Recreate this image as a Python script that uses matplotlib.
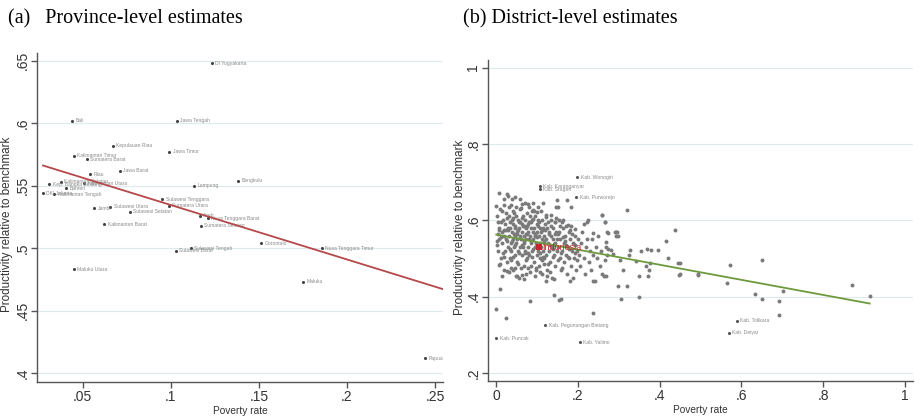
import matplotlib.pyplot as plt
from matplotlib.ticker import FixedLocator

plt.rcParams['font.family'] = ['Liberation Sans', 'DejaVu Sans']

# (a) province-level estimates
prov_names = ['DI Yogyakarta', 'Bali', 'Jawa Tengah', 'Kepulauan Riau', 'Jawa Timur',
              'Kalimantan Timur', 'Sumatera Barat', 'Riau', 'Jawa Barat', 'Bengkulu',
              'Lampung', 'Kep. Bangka Belitung', 'Kalimantan Selatan', 'Kalimantan Utara',
              'Banten', 'DKI Jakarta', 'Kalimantan Tengah', 'Sulawesi Tenggara',
              'Sumatera Utara', 'Jambi', 'Sulawesi Utara', 'Sulawesi Selatan', 'Aceh',
              'Nusa Tenggara Barat', 'Sumatera Selatan', 'Kalimantan Barat',
              'Sulawesi Tengah', 'Sulawesi Barat', 'Gorontalo', 'Nusa Tenggara Timur',
              'Maluku', 'Papua', 'Maluku Utara']
prov_pov = [0.1233, 0.0441, 0.1032, 0.0669, 0.0990, 0.0449, 0.0521, 0.0540, 0.0710, 0.1382,
            0.1132, 0.0309, 0.0375, 0.0509, 0.0407, 0.0274, 0.0337, 0.0951, 0.0989, 0.0564,
            0.0655, 0.0767, 0.1165, 0.1209, 0.1170, 0.0621, 0.1112, 0.1027, 0.1511, 0.1858,
            0.1752, 0.2445, 0.0449]
prov_prod = [0.648, 0.602, 0.602, 0.582, 0.577, 0.574, 0.571, 0.559, 0.562, 0.554,
             0.550, 0.551, 0.553, 0.552, 0.548, 0.544, 0.543, 0.539, 0.534, 0.532,
             0.533, 0.529, 0.526, 0.524, 0.518, 0.519, 0.500, 0.498, 0.504, 0.500,
             0.473, 0.412, 0.483]
prov_fit_x = [0.0274, 0.2547]
prov_fit_y = [0.566, 0.467]

# (b) district-level estimates
dist_pov = [
    0.002, 0.004, 0.006, 0.008, 0.010, 0.011, 0.013, 0.015, 0.016, 0.018, 0.019, 0.021, 0.022,
    0.024, 0.025, 0.027, 0.028, 0.029, 0.005, 0.012, 0.017, 0.023, 0.026, 0.003, 0.009,
    0.031, 0.032, 0.033, 0.034, 0.035, 0.036, 0.037, 0.038, 0.039, 0.040, 0.041, 0.042, 0.043,
    0.044, 0.045, 0.046, 0.047, 0.048, 0.049, 0.050, 0.051, 0.052, 0.053, 0.054, 0.055, 0.056,
    0.057, 0.058, 0.059, 0.034, 0.038, 0.042, 0.046, 0.050, 0.054, 0.058, 0.033, 0.047, 0.053,
    0.040,
    0.061, 0.062, 0.063, 0.064, 0.065, 0.066, 0.067, 0.068, 0.069, 0.070, 0.071, 0.072, 0.073,
    0.074, 0.075, 0.076, 0.077, 0.078, 0.079, 0.080, 0.081, 0.082, 0.083, 0.084, 0.085, 0.086,
    0.087, 0.088, 0.089, 0.064, 0.068, 0.072, 0.076, 0.080, 0.084, 0.088, 0.070, 0.078,
    0.091, 0.092, 0.093, 0.094, 0.095, 0.096, 0.097, 0.098, 0.099, 0.100, 0.101, 0.102, 0.103,
    0.104, 0.105, 0.106, 0.107, 0.108, 0.109, 0.110, 0.111, 0.112, 0.113, 0.114, 0.115, 0.116,
    0.117, 0.118, 0.119, 0.094, 0.100, 0.106, 0.112, 0.118,
    0.121, 0.122, 0.124, 0.125, 0.127, 0.128, 0.130, 0.131, 0.133, 0.134, 0.136, 0.137, 0.139,
    0.140, 0.142, 0.143, 0.145, 0.146, 0.148, 0.149, 0.126, 0.132, 0.138, 0.144,
    0.151, 0.153, 0.155, 0.157, 0.159, 0.161, 0.163, 0.165, 0.167, 0.169, 0.171, 0.173, 0.175,
    0.177, 0.179, 0.181, 0.183, 0.185, 0.187, 0.189, 0.191, 0.193, 0.195, 0.197, 0.199, 0.160,
    0.170, 0.180,
    0.202, 0.205, 0.208, 0.211, 0.214, 0.217, 0.220, 0.223, 0.226, 0.229, 0.232, 0.235, 0.238,
    0.241, 0.244, 0.247, 0.250, 0.253, 0.256, 0.259,
    0.001, 0.007, 0.014, 0.020, 0.030, 0.036, 0.043, 0.049, 0.056, 0.062, 0.069, 0.075, 0.081,
    0.087, 0.093, 0.099, 0.105, 0.111, 0.117, 0.123, 0.129, 0.135, 0.141, 0.147, 0.152, 0.158,
    0.164, 0.170, 0.176, 0.184, 0.192, 0.198,
    0.004, 0.011, 0.019, 0.027, 0.035, 0.041, 0.048, 0.055, 0.060, 0.066, 0.073, 0.079, 0.085,
    0.090, 0.097, 0.103, 0.109, 0.115, 0.120, 0.127, 0.133, 0.139, 0.145, 0.150, 0.156, 0.162,
    0.168, 0.178, 0.186, 0.194,
    0.015, 0.031, 0.045, 0.052, 0.067, 0.083, 0.096, 0.108, 0.125, 0.132, 0.141, 0.057, 0.071,
    0.019, 0.039, 0.089, 0.103, 0.115,
    # scattered points away from the core
    0.007, 0.026, 0.028, 0.046, 0.000, 0.018, 0.032, 0.063, 0.079, 0.090, 0.061, 0.148, 0.146,
    0.150, 0.174, 0.183, 0.319, 0.259, 0.267, 0.221, 0.225, 0.216, 0.122, 0.101, 0.091, 0.144,
    0.153, 0.164, 0.176, 0.194, 0.237, 0.272, 0.291, 0.293, 0.437, 0.416, 0.420, 0.445, 0.447,
    0.494, 0.396, 0.378, 0.370, 0.354, 0.376, 0.374, 0.372, 0.366, 0.349, 0.350, 0.320, 0.305,
    0.298, 0.311, 0.302, 0.327, 0.324, 0.341, 0.296, 0.292, 0.297, 0.266, 0.258, 0.273, 0.268,
    0.268, 0.273, 0.282, 0.286, 0.272, 0.266, 0.264, 0.010, 0.000, 0.024, 0.083, 0.142, 0.158,
    0.154, 0.238, 0.180, 0.122, 0.063, 0.008, 0.026, 0.238, 0.268,
    0.572, 0.650, 0.495, 0.564, 0.633, 0.650, 0.691, 0.702, 0.693, 0.871, 0.914, 0.449, 0.449]
dist_prod = [
    0.61, 0.52, 0.58, 0.55, 0.63, 0.50, 0.57, 0.54, 0.60, 0.47, 0.56, 0.59, 0.52,
    0.62, 0.55, 0.49, 0.58, 0.53, 0.565, 0.595, 0.515, 0.575, 0.605, 0.545, 0.485,
    0.56, 0.61, 0.50, 0.58, 0.54, 0.64, 0.52, 0.57, 0.60, 0.47, 0.55, 0.59, 0.53,
    0.62, 0.56, 0.51, 0.58, 0.54, 0.61, 0.49, 0.57, 0.55, 0.60, 0.52, 0.58, 0.45,
    0.56, 0.63, 0.53, 0.525, 0.545, 0.505, 0.585, 0.565, 0.575, 0.595, 0.595, 0.535, 0.485,
    0.625,
    0.55, 0.59, 0.51, 0.57, 0.53, 0.61, 0.48, 0.56, 0.54, 0.60, 0.52, 0.58, 0.46,
    0.55, 0.62, 0.50, 0.57, 0.53, 0.59, 0.55, 0.51, 0.61, 0.56, 0.48, 0.58, 0.54,
    0.60, 0.52, 0.57, 0.535, 0.585, 0.495, 0.565, 0.595, 0.545, 0.625, 0.515, 0.475,
    0.55, 0.49, 0.58, 0.53, 0.61, 0.56, 0.47, 0.54, 0.59, 0.51, 0.57, 0.60, 0.52,
    0.56, 0.48, 0.58, 0.54, 0.50, 0.57, 0.53, 0.60, 0.55, 0.46, 0.52, 0.58, 0.54,
    0.50, 0.56, 0.59, 0.565, 0.535, 0.515, 0.575, 0.485,
    0.55, 0.51, 0.58, 0.47, 0.54, 0.57, 0.52, 0.49, 0.56, 0.60, 0.53, 0.45, 0.55,
    0.58, 0.51, 0.54, 0.48, 0.57, 0.52, 0.55, 0.595, 0.535, 0.505, 0.565,
    0.53, 0.57, 0.50, 0.55, 0.47, 0.52, 0.58, 0.54, 0.49, 0.56, 0.51, 0.46, 0.53,
    0.57, 0.50, 0.55, 0.48, 0.52, 0.45, 0.54, 0.50, 0.56, 0.47, 0.52, 0.55, 0.595,
    0.585, 0.575,
    0.51, 0.48, 0.54, 0.57, 0.50, 0.46, 0.53, 0.55, 0.49, 0.52, 0.47, 0.55, 0.51,
    0.44, 0.53, 0.50, 0.56, 0.48, 0.52, 0.46,
    0.535, 0.575, 0.625, 0.505, 0.575, 0.495, 0.565, 0.635, 0.515, 0.605, 0.545, 0.585, 0.635,
    0.505, 0.625, 0.555, 0.595, 0.495, 0.545, 0.615, 0.565, 0.585, 0.535, 0.605, 0.565, 0.515,
    0.555, 0.535, 0.505, 0.585, 0.535, 0.495,
    0.595, 0.555, 0.575, 0.545, 0.475, 0.605, 0.455, 0.595, 0.475, 0.585, 0.565, 0.515, 0.595,
    0.525, 0.475, 0.585, 0.625, 0.505, 0.575, 0.485, 0.615, 0.525, 0.595, 0.495, 0.585, 0.475,
    0.545, 0.525, 0.565, 0.515,
    0.455, 0.465, 0.475, 0.455, 0.445, 0.465, 0.455, 0.465, 0.455, 0.465, 0.445, 0.655, 0.645,
    0.655, 0.655, 0.645, 0.635, 0.645,
    0.671, 0.670, 0.664, 0.662, 0.637, 0.641, 0.635, 0.644, 0.642, 0.628, 0.632, 0.654, 0.635,
    0.635, 0.654, 0.635, 0.628, 0.614, 0.596, 0.596, 0.600, 0.590, 0.609, 0.622, 0.604, 0.596,
    0.600, 0.600, 0.589, 0.576, 0.567, 0.569, 0.569, 0.558, 0.574, 0.545, 0.502, 0.487, 0.457,
    0.458, 0.521, 0.521, 0.526, 0.519, 0.489, 0.469, 0.453, 0.480, 0.453, 0.400, 0.429, 0.394,
    0.427, 0.469, 0.495, 0.521, 0.508, 0.493, 0.569, 0.569, 0.558, 0.595, 0.614, 0.568, 0.542,
    0.530, 0.526, 0.522, 0.511, 0.509, 0.495, 0.454, 0.421, 0.368, 0.345, 0.389, 0.403, 0.394,
    0.391, 0.356, 0.440, 0.440, 0.456, 0.482, 0.467, 0.441, 0.455,
    0.483, 0.496, 0.459, 0.437, 0.407, 0.393, 0.389, 0.414, 0.352, 0.431, 0.401, 0.488, 0.459]

dist_names = ['Kab. Wonogiri', 'Kab. Karanganyar', 'Kab. Sragen', 'Kab. Purworejo',
              'Kab. Pegunungan Bintang', 'Kab. Puncak', 'Kab. Yalimo', 'Kab. Tolikara',
              'Kab. Deiyai']
dist_named_pov = [0.198, 0.106, 0.107, 0.196, 0.1195, 0.000, 0.205, 0.5886, 0.569]
dist_named_prod = [0.713, 0.689, 0.682, 0.661, 0.325, 0.2915, 0.280, 0.337, 0.305]
indonesia_pov = 0.105
indonesia_prod = 0.530
dist_fit_x = [0.0, 0.914]
dist_fit_y = [0.5626, 0.382]

prov_xticks = [0.05, 0.1, 0.15, 0.2, 0.25]
prov_xlabels = ['.05', '.1', '.15', '.2', '.25']
prov_yticks = [0.4, 0.45, 0.5, 0.55, 0.6, 0.65]
prov_ylabels = ['.4', '.45', '.5', '.55', '.6', '.65']
dist_xticks = [0, 0.2, 0.4, 0.6, 0.8, 1]
dist_xlabels = ['0', '.2', '.4', '.6', '.8', '1']
dist_yticks = [0.2, 0.4, 0.6, 0.8, 1]
dist_ylabels = ['.2', '.4', '.6', '.8', '1']

grid_col = '#dde9ec'
axis_col = '#555555'

fig = plt.figure(figsize=(9.21, 4.19), dpi=100)
ax1 = fig.add_axes([0.0402, 0.0883, 0.4408, 0.7852])
ax2 = fig.add_axes([0.5299, 0.0907, 0.4614, 0.7661])


def style(ax, xt, xl, yt, yl, ylab_x):
    ax.xaxis.set_major_locator(FixedLocator(xt))
    ax.set_xticklabels(xl)
    ax.yaxis.set_major_locator(FixedLocator(yt))
    ax.set_yticklabels(yl, rotation=90, va='center')
    for s in ['top', 'right']:
        ax.spines[s].set_visible(False)
    for s in ['left', 'bottom']:
        ax.spines[s].set_color(axis_col)
        ax.spines[s].set_linewidth(1.0)
    ax.tick_params(direction='out', length=4, width=1, color=axis_col,
                   labelsize=10, labelcolor='#333333', pad=2)
    ax.tick_params(axis='y', pad=1.5)
    ax.grid(axis='y', color=grid_col, linewidth=0.8)
    ax.set_axisbelow(True)
    ax.set_xlabel('Poverty rate', fontsize=7.3, color='#333333', labelpad=1)
    ax.set_ylabel('Productivity relative to benchmark', fontsize=8.4, color='#333333')
    ax.yaxis.set_label_coords(ylab_x, 0.48)


# panel (a)
ax1.scatter(prov_pov, prov_prod, s=5, color='#444444', zorder=3, linewidths=0)
for name, x, y in zip(prov_names, prov_pov, prov_prod):
    ax1.annotate(name, (x, y), xytext=(2.5, 0), textcoords='offset points',
                 fontsize=3.6, color='#8a8a8a', va='center', ha='left')
ax1.plot(prov_fit_x, prov_fit_y, color='#b5484a', linewidth=1.3, zorder=4)
ax1.set_xlim(0.024, 0.2545)
ax1.set_ylim(0.3928, 0.656)
style(ax1, prov_xticks, prov_xlabels, prov_yticks, prov_ylabels, -0.06)

# panel (b)
ax2.scatter(dist_pov, dist_prod, s=8, color='#7a7a7a', zorder=3, linewidths=0)
ax2.scatter(dist_named_pov, dist_named_prod, s=5, color='#555555', zorder=3, linewidths=0)
for name, x, y in zip(dist_names, dist_named_pov, dist_named_prod):
    ax2.annotate(name, (x, y), xytext=(2.5, 0), textcoords='offset points',
                 fontsize=3.6, color='#8a8a8a', va='center', ha='left')
ax2.plot(dist_fit_x, dist_fit_y, color='#6e9a3e', linewidth=1.3, zorder=4)
ax2.scatter([indonesia_pov], [indonesia_prod], s=16, marker='s', color='#c0282d', zorder=5,
            linewidths=0)
ax2.annotate('Indonesia', (indonesia_pov, indonesia_prod), xytext=(2.5, 0),
             textcoords='offset points', fontsize=6.5, color='#c0282d', va='center', zorder=5)
ax2.set_xlim(-0.02, 1.02)
ax2.set_ylim(0.179, 1.02)
style(ax2, dist_xticks, dist_xlabels, dist_yticks, dist_ylabels, -0.052)

fig.text(0.009, 0.955, '(a)   Province-level estimates', fontsize=14.5,
         family='Liberation Serif', va='center', ha='left')
fig.text(0.503, 0.955, '(b) District-level estimates', fontsize=14.5,
         family='Liberation Serif', va='center', ha='left')

fig.savefig('out.png', dpi=100)
